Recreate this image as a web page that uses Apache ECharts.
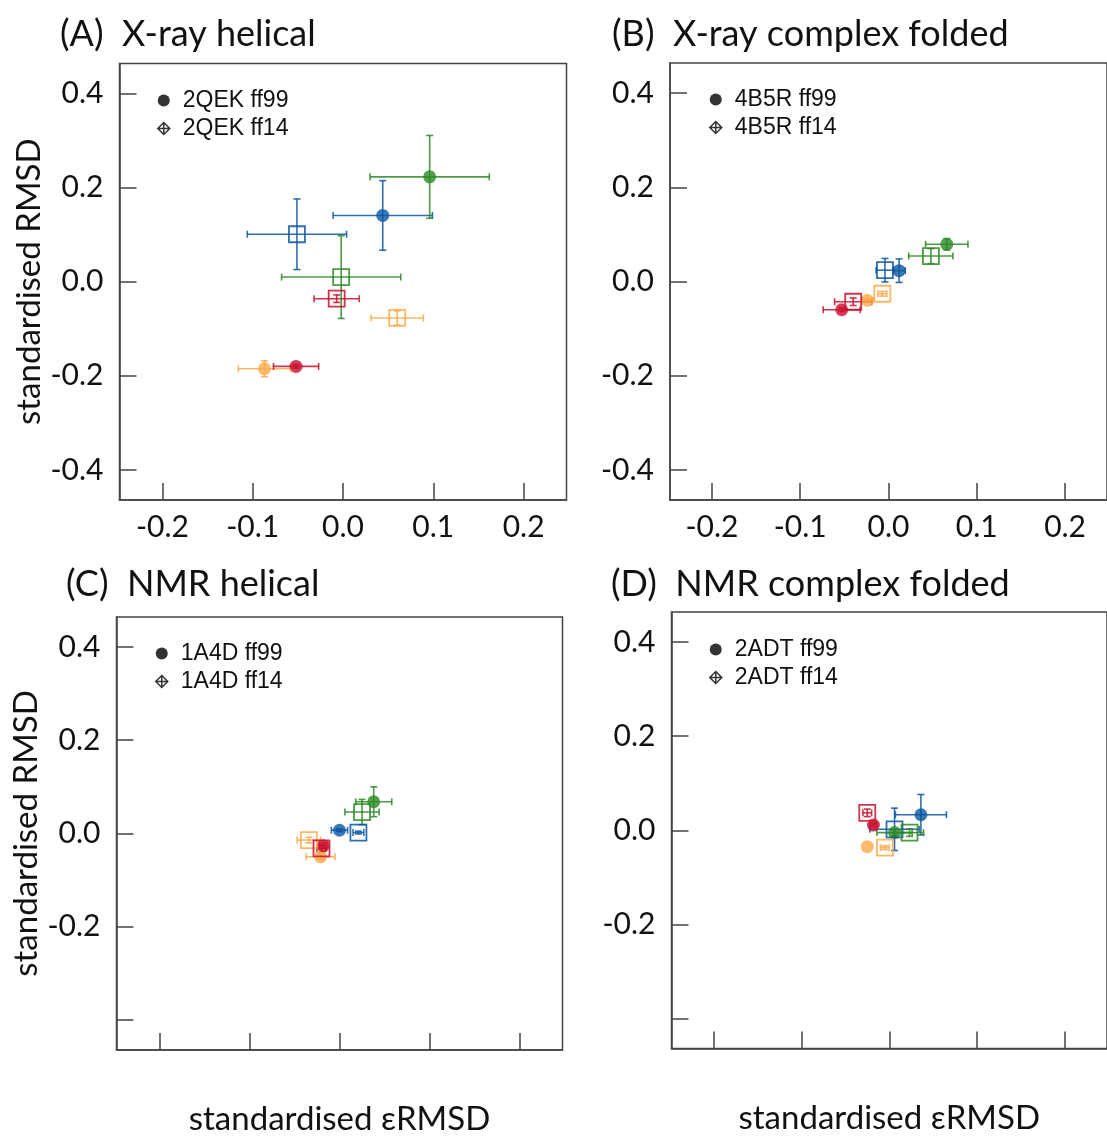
<!DOCTYPE html>
<html>
<head>
<meta charset="utf-8">
<script src="https://cdn.jsdelivr.net/npm/echarts@6/dist/echarts.min.js"></script>
<style>
  html, body { margin: 0; padding: 0; background: #fff; }
  #chart { width: 1107px; height: 1137px; }
</style>
</head>
<body>
<div id="chart"></div>
<script>
// colour groups, in this order in every array below
var groupColors = ['#FBAA4A', '#C8102E', '#0B56A2', '#2A8A23'];

// ticks
var xTicks = [-0.2, -0.1, 0, 0.1, 0.2];
var yTicks = [-0.4, -0.2, 0, 0.2, 0.4];
var yLabelsLower = [-0.2, 0, 0.2, 0.4];

// [x, y, x error, y error] per colour group
var xrayHelical99 = [[-0.087, -0.185, 0.029, 0.017], [-0.052, -0.180, 0.025, 0.004], [0.044, 0.141, 0.055, 0.074], [0.096, 0.223, 0.066, 0.088]];
var xrayHelical14 = [[0.060, -0.077, 0.029, 0.015], [-0.007, -0.036, 0.025, 0.008], [-0.051, 0.101, 0.055, 0.075], [-0.002, 0.010, 0.066, 0.088]];
var xrayComplex99 = [[-0.024, -0.040, 0.006, 0.004], [-0.053, -0.060, 0.021, 0.004], [0.012, 0.023, 0.007, 0.025], [0.066, 0.079, 0.024, 0.012]];
var xrayComplex14 = [[-0.007, -0.026, 0.005, 0.005], [-0.040, -0.043, 0.021, 0.008], [-0.004, 0.024, 0.010, 0.025], [0.048, 0.054, 0.025, 0.016]];
var nmrHelical99 = [[-0.021, -0.050, 0.016, 0.006], [-0.018, -0.026, 0.004, 0.006], [0.000, 0.007, 0.009, 0.003], [0.038, 0.068, 0.020, 0.032]];
var nmrHelical14 = [[-0.034, -0.014, 0.013, 0.006], [-0.020, -0.032, 0.005, 0.008], [0.021, 0.002, 0.006, 0.003], [0.025, 0.046, 0.019, 0.027]];
var nmrComplex99 = [[-0.025, -0.035, 0, 0], [-0.018, 0.011, 0.004, 0.004], [0.036, 0.033, 0.029, 0.043], [0.006, -0.005, 0.020, 0.006]];
var nmrComplex14 = [[-0.005, -0.037, 0.005, 0.004], [-0.025, 0.037, 0.005, 0.008], [0.006, 0.002, 0.028, 0.045], [0.023, -0.005, 0.016, 0.008]];

var panels = [
    {title: '(A)  X-ray helical', pdb: '2QEK', ff99: xrayHelical99, ff14: xrayHelical14,
     grid: {left: 119.5, top: 63.5, width: 447, height: 436.5}, titlePos: [55, 11], legendPos: [152, 84], bottomRow: false},
    {title: '(B)  X-ray complex folded', pdb: '4B5R', ff99: xrayComplex99, ff14: xrayComplex14,
     grid: {left: 670, top: 63, width: 447, height: 437}, titlePos: [607, 11], legendPos: [704, 83], bottomRow: false},
    {title: '(C)  NMR helical', pdb: '1A4D', ff99: nmrHelical99, ff14: nmrHelical14,
     grid: {left: 116.5, top: 617, width: 446, height: 436}, titlePos: [61, 561], legendPos: [150, 637], bottomRow: true},
    {title: '(D)  NMR complex folded', pdb: '2ADT', ff99: nmrComplex99, ff14: nmrComplex14,
     grid: {left: 671.5, top: 612, width: 447, height: 436.5}, titlePos: [606, 561], legendPos: [704, 633], bottomRow: true}
];

var diamondPlus = 'path://M6,0 L12,6 L6,12 L0,6 Z M6,0 L6,12 M0,6 L12,6';
var labelFont = 'Lato, "Open Sans", sans-serif';

function errorBars(params, api) {
    var x = api.value(0), y = api.value(1), xe = api.value(2), ye = api.value(3);
    var color = groupColors[params.dataIndex];
    var cap = 3.5;
    var style = {stroke: color, lineWidth: 1.6, opacity: 0.85};
    var kids = [];
    if (xe > 0) {
        var l = api.coord([x - xe, y]), r = api.coord([x + xe, y]);
        kids.push({type: 'line', shape: {x1: l[0], y1: l[1], x2: r[0], y2: r[1]}, style: style});
        kids.push({type: 'line', shape: {x1: l[0], y1: l[1] - cap, x2: l[0], y2: l[1] + cap}, style: style});
        kids.push({type: 'line', shape: {x1: r[0], y1: r[1] - cap, x2: r[0], y2: r[1] + cap}, style: style});
    }
    if (ye > 0) {
        var t = api.coord([x, y + ye]), b = api.coord([x, y - ye]);
        kids.push({type: 'line', shape: {x1: t[0], y1: t[1], x2: b[0], y2: b[1]}, style: style});
        kids.push({type: 'line', shape: {x1: t[0] - cap, y1: t[1], x2: t[0] + cap, y2: t[1]}, style: style});
        kids.push({type: 'line', shape: {x1: b[0] - cap, y1: b[1], x2: b[0] + cap, y2: b[1]}, style: style});
    }
    return {type: 'group', children: kids};
}

var grids = [], xAxes = [], yAxes = [], titles = [], legends = [], series = [];

panels.forEach(function (p, i) {
    grids.push(Object.assign({show: true, borderColor: '#444', borderWidth: 1.5, backgroundColor: '#fff'}, p.grid));
    titles.push({text: p.title, left: p.titlePos[0], top: p.titlePos[1],
        textStyle: {fontFamily: labelFont, fontSize: 36, fontWeight: 'normal', color: '#111'}});
    xAxes.push({
        type: 'value', gridIndex: i, min: -0.2475, max: 0.2475,
        splitLine: {show: false},
        axisLine: {show: true, onZero: false, lineStyle: {color: '#444', width: 1.5}},
        axisTick: {show: true, inside: true, length: 17, customValues: xTicks, lineStyle: {color: '#444', width: 1.5}},
        axisLabel: {show: !p.bottomRow, customValues: xTicks, margin: 12, fontFamily: labelFont, fontSize: 30, color: '#111',
            formatter: function (v) { return v.toFixed(1); }},
        name: p.bottomRow ? 'standardised εRMSD' : '', nameLocation: 'middle', nameGap: 53,
        nameTextStyle: {fontFamily: labelFont, fontSize: 33, color: '#111'}
    });
    yAxes.push({
        type: 'value', gridIndex: i, min: -0.464, max: 0.464,
        splitLine: {show: false},
        axisLine: {show: true, onZero: false, lineStyle: {color: '#444', width: 1.5}},
        axisTick: {show: true, inside: true, length: 17, customValues: yTicks, lineStyle: {color: '#444', width: 1.5}},
        axisLabel: {customValues: p.bottomRow ? yLabelsLower : yTicks, margin: 16, fontFamily: labelFont, fontSize: 30, color: '#111',
            formatter: function (v) { return v.toFixed(1); }},
        name: (i % 2 === 0) ? 'standardised RMSD' : '', nameLocation: 'middle', nameGap: 74,
        nameTextStyle: {fontFamily: labelFont, fontSize: 33, color: '#111'}
    });

    var n99 = p.pdb + ' ff99', n14 = p.pdb + ' ff14';
    legends.push({
        left: p.legendPos[0], top: p.legendPos[1], orient: 'vertical', itemGap: 5,
        itemWidth: 12, itemHeight: 12, selectedMode: false,
        textStyle: {fontFamily: '"Liberation Sans", Arial, sans-serif', fontSize: 23, color: '#111', padding: [0, 0, 0, 8]},
        data: [
            {name: n99, icon: 'circle', itemStyle: {color: '#000', borderWidth: 0}},
            {name: n14, icon: diamondPlus, itemStyle: {color: 'rgba(0,0,0,0)', borderColor: '#000', borderWidth: 1.5}}
        ]
    });

    series.push({
        type: 'custom', name: n99 + ' err', xAxisIndex: i, yAxisIndex: i,
        renderItem: errorBars, data: p.ff99, z: 2
    });
    series.push({
        type: 'custom', name: n14 + ' err', xAxisIndex: i, yAxisIndex: i,
        renderItem: errorBars, data: p.ff14, z: 2
    });
    series.push({
        type: 'scatter', name: n99, xAxisIndex: i, yAxisIndex: i, symbol: 'circle', symbolSize: 13, z: 3,
        data: p.ff99.map(function (d, k) {
            return {value: [d[0], d[1]], itemStyle: {color: groupColors[k]}};
        })
    });
    series.push({
        type: 'scatter', name: n14, xAxisIndex: i, yAxisIndex: i, symbol: 'rect', symbolSize: 16, z: 3,
        data: p.ff14.map(function (d, k) {
            return {value: [d[0], d[1]], itemStyle: {color: 'rgba(0,0,0,0)', borderColor: groupColors[k], borderWidth: 1.8, opacity: 0.85}};
        })
    });
});

var myChart = echarts.init(document.getElementById('chart'));
myChart.setOption({
    animation: false,
    backgroundColor: '#fff',
    title: titles,
    legend: legends,
    grid: grids,
    xAxis: xAxes,
    yAxis: yAxes,
    series: series
});
</script>
</body>
</html>
